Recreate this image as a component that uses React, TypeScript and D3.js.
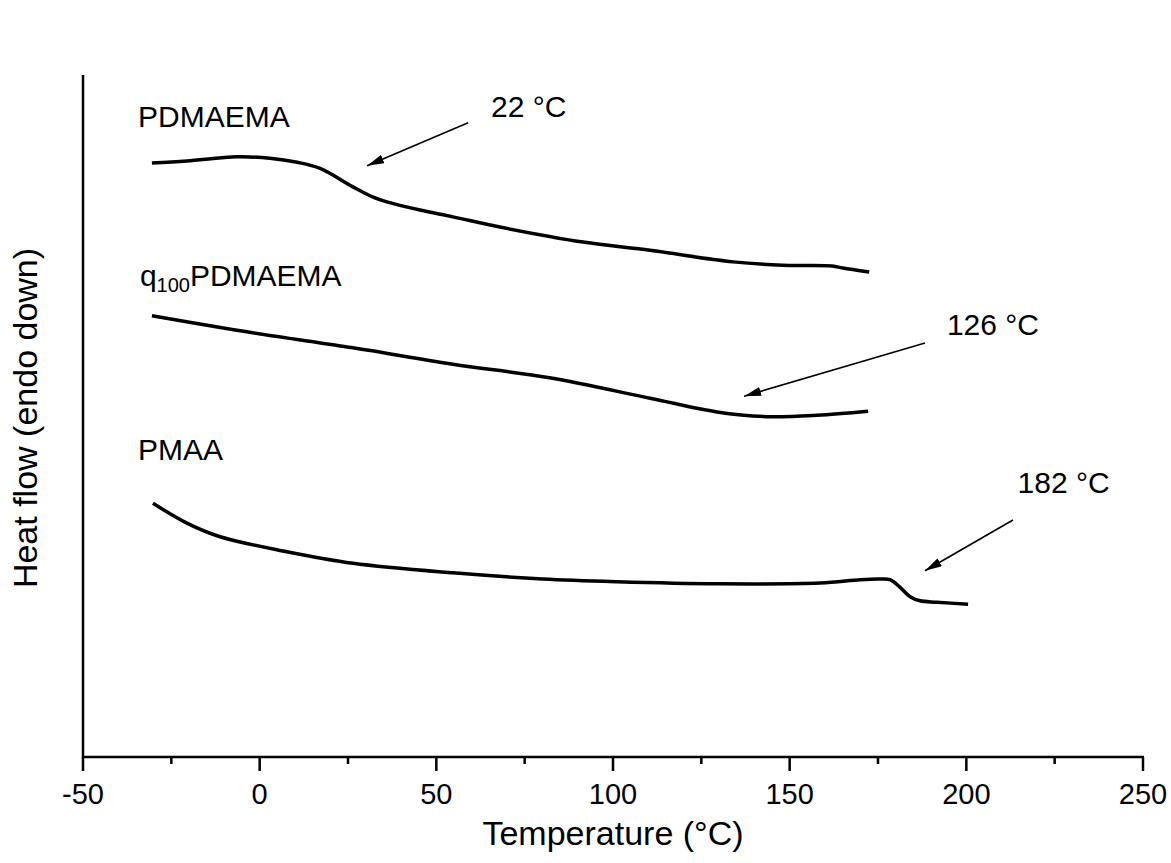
import React from 'react';
import * as d3 from 'd3';

// DSC traces, temperature in °C vs heat flow (arbitrary units, endo down)
const pdmaemaT = [-30.5, -20.6, -6.4, 2.9, 10.6, 17.1, 26.4, 32.1, 36, 45.4, 54.7, 68, 91.5, 110.5, 134, 148, 162, 165, 172.5];
const pdmaemaH = [87.1, 87.4, 88.0, 87.8, 87.2, 86.3, 83.6, 82.1, 81.4, 80.2, 79.2, 77.7, 75.5, 74.3, 72.6, 72.1, 72.0, 71.7, 71.1];

const q100T = [-30.5, -2, 26.4, 54.7, 82, 110.5, 129.4, 143.6, 157.7, 172.2];
const q100H = [64.7, 62.2, 60.0, 57.6, 55.6, 52.6, 50.6, 49.9, 50.1, 50.7];

const pmaaT = [-30.2, -20.6, -11.2, 7.7, 26.4, 54.7, 80, 101, 130, 158.6, 170, 175.6, 178.4, 181.2, 184.1, 186.9, 191.7, 200.5];
const pmaaH = [37.2, 34.3, 32.3, 30.1, 28.4, 27.0, 26.1, 25.7, 25.4, 25.5, 26.0, 26.1, 26.0, 24.9, 23.5, 22.9, 22.7, 22.4];

const xTicks = [-50, 0, 50, 100, 150, 200, 250];
const xMinorTicks = [-25, 25, 75, 125, 175, 225];

// series labels: name, x, y (data units)
const seriesLabels = [
  { name: 'PDMAEMA', x: -34.4, y: 92.4 },
  { name: 'q100PDMAEMA', x: -33.9, y: 69.1 },
  { name: 'PMAA', x: -34.4, y: 43.5 },
];

// Tg annotations with arrows
const tgNotes = [
  { text: '22 °C', tx: 65.5, ty: 93.8, x1: 59.0, y1: 93.0, x2: 30.4, y2: 86.7 },
  { text: '126 °C', tx: 194.5, ty: 61.9, x1: 188.3, y1: 60.7, x2: 137.1, y2: 52.9 },
  { text: '182 °C', tx: 214.5, ty: 38.7, x1: 213.2, y1: 34.75, x2: 188.3, y2: 27.3 },
];

const W = 1171;
const H = 863;
const FONT = '"Liberation Sans", Arial, sans-serif';

const App = () => {
  const x = d3.scaleLinear().domain([-50, 250]).range([83, 1143]);
  const y = d3.scaleLinear().domain([0, 100]).range([757, 75]);

  const line = d3.line<[number, number]>()
    .x(d => x(d[0]))
    .y(d => y(d[1]))
    .curve(d3.curveCatmullRom.alpha(0.5));

  const traces = [
    d3.zip(pdmaemaT, pdmaemaH) as [number, number][],
    d3.zip(q100T, q100H) as [number, number][],
    d3.zip(pmaaT, pmaaH) as [number, number][],
  ];

  const [y0, y1] = y.range();

  return (
    <div style={{ position: 'absolute', left: 0, top: 0 }}>
      <svg width={W} height={H} style={{ display: 'block', background: '#fff' }} fontFamily={FONT}>
        <defs>
          <marker id="arrow" viewBox="0 0 10 10" refX="10" refY="5"
            markerWidth="17" markerHeight="9" markerUnits="userSpaceOnUse" orient="auto" preserveAspectRatio="none">
            <path d="M0,0 L10,5 L0,10 z" fill="#000" />
          </marker>
        </defs>

        {/* axes */}
        <line x1={x(-50)} x2={x(-50)} y1={y1} y2={y0 + 1} stroke="#000" strokeWidth={2.5} />
        <line x1={x(-50) - 1} x2={x(250) + 1} y1={y0} y2={y0} stroke="#000" strokeWidth={2.5} />
        {xTicks.map(t => (
          <g key={t}>
            <line x1={x(t)} x2={x(t)} y1={y0} y2={y0 + 14} stroke="#000" strokeWidth={2.5} />
            <text x={x(t)} y={y0 + 47} textAnchor="middle" fontSize={29}>{t}</text>
          </g>
        ))}
        {xMinorTicks.map(t => (
          <line key={t} x1={x(t)} x2={x(t)} y1={y0} y2={y0 + 7} stroke="#000" strokeWidth={2.5} />
        ))}

        <text x={x(100)} y={845} textAnchor="middle" fontSize={34}>Temperature (°C)</text>
        <text transform={`translate(37, ${y(50) + 2}) rotate(-90)`} textAnchor="middle" fontSize={34}>
          Heat flow (endo down)
        </text>

        {/* traces */}
        {traces.map((tr, i) => (
          <path key={i} d={line(tr) || ''} fill="none" stroke="#000" strokeWidth={3.5}
            strokeLinejoin="round" />
        ))}

        {/* series labels */}
        {seriesLabels.map(l => (
          <text key={l.name} x={x(l.x)} y={y(l.y)} fontSize={30}>
            {l.name.startsWith('q100') ? (
              <>
                <tspan>q</tspan>
                <tspan fontSize={20} dy={6}>100</tspan>
                <tspan dy={-6}>{l.name.slice(4)}</tspan>
              </>
            ) : l.name}
          </text>
        ))}

        {/* Tg annotations */}
        {tgNotes.map(n => (
          <g key={n.text}>
            <line x1={x(n.x1)} y1={y(n.y1)} x2={x(n.x2)} y2={y(n.y2)}
              stroke="#000" strokeWidth={1.6} markerEnd="url(#arrow)" />
            <text x={x(n.tx)} y={y(n.ty)} fontSize={30}>{n.text}</text>
          </g>
        ))}
      </svg>
    </div>
  );
};

export default App;
